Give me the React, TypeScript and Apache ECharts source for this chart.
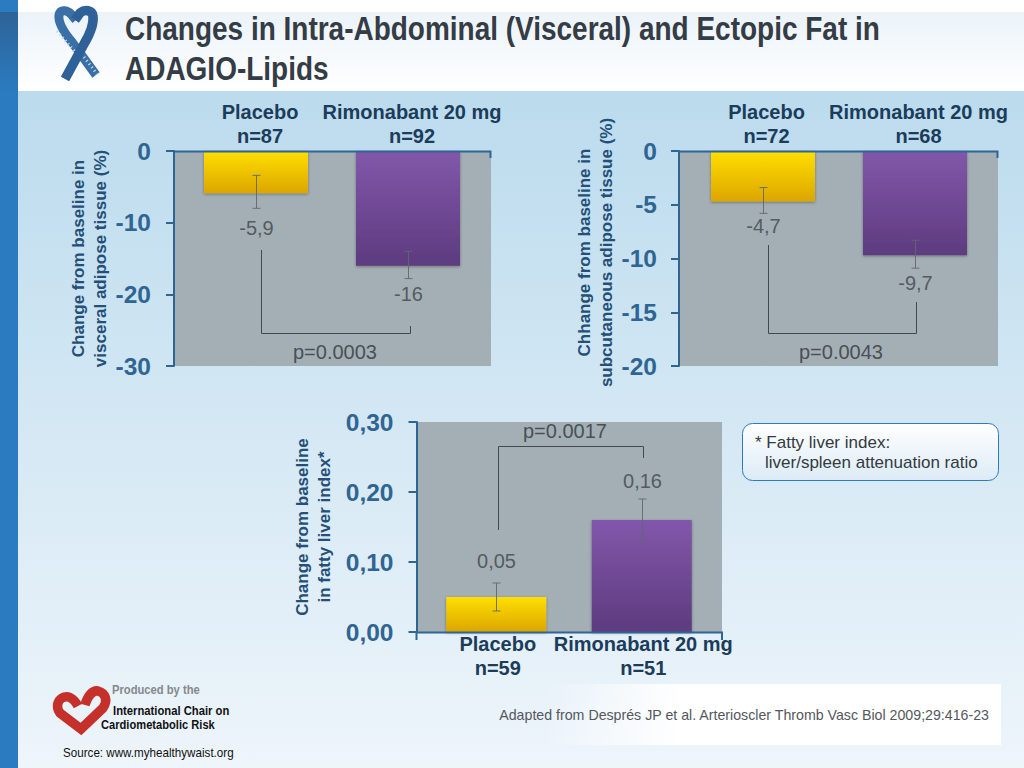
import React, { useEffect, useRef } from "react";
import * as echarts from "echarts";

const titleLines = ["Changes in Intra-Abdominal (Visceral) and Ectopic Fat in", "ADAGIO-Lipids"];

const visceralCats = ["Placebo\nn=87", "Rimonabant 20 mg\nn=92"];
const visceralValues = [-5.9, -16];
const visceralLow = [-8, -17.8];
const visceralHigh = [-3.4, -14];
const visceralLabels = ["-5,9", "-16"];
const visceralTicks = { min: -30, max: 0, interval: 10 };

const subcutCats = ["Placebo\nn=72", "Rimonabant 20 mg\nn=68"];
const subcutValues = [-4.7, -9.7];
const subcutLow = [-5.8, -10.9];
const subcutHigh = [-3.4, -8.3];
const subcutLabels = ["-4,7", "-9,7"];
const subcutTicks = { min: -20, max: 0, interval: 5 };

const liverCats = ["Placebo\nn=59", "Rimonabant 20 mg\nn=51"];
const liverValues = [0.05, 0.16];
const liverLow = [0.03, 0.13];
const liverHigh = [0.07, 0.19];
const liverLabels = ["0,05", "0,16"];
const liverTicks = { min: 0, max: 0.3, interval: 0.1 };

const RIBBON_A = "M96 75 L72 42 C62 30 58 22 59 15 C60 10 66 9 71 14 L76 20";
const RIBBON_B = "M65 79 L84 44 C90 34 94 24 93 16 C92 10 85 9 80 13 L75 20";
const HEART = "M78 706 C73 697 67 695 62 698 C57 701 56 708 60 713 L81 729 L103 708 C108 701 106 693 98 691 C93 690 88 695 85 705";

echarts.graphic.registerShape("ribbonA", echarts.graphic.extendPath(RIBBON_A, {}));
echarts.graphic.registerShape("ribbonB", echarts.graphic.extendPath(RIBBON_B, {}));
echarts.graphic.registerShape("heartMark", echarts.graphic.extendPath(HEART, {}));

const SANS = "'Liberation Sans', Arial, sans-serif";
const AXIS_BLUE = "#2f6593";
const NAME_BLUE = "#234f78";
const NAVY = "#1b3c5a";
const GREY = "#555b5f";
const PLOT = "#a3afb5";

const grad = (a: string, b: string) =>
  new echarts.graphic.LinearGradient(0, 0, 0, 1, [
    { offset: 0, color: a },
    { offset: 1, color: b },
  ]);

function barData(values: number[]) {
  return values.map((value, i) => ({
    value,
    itemStyle: {
      color: i === 0 ? grad("#ffdf00", "#dca600") : grad("#8257aa", "#5d3b7f"),
      shadowColor: "rgba(0,0,0,0.35)",
      shadowBlur: 3,
      shadowOffsetY: 1,
    },
  }));
}

function errorSeries(idx: number, low: number[], high: number[], labels: string[], gaps: number[], below: boolean) {
  return {
    type: "custom",
    xAxisIndex: idx,
    yAxisIndex: idx,
    z: 5,
    data: low.map((l, i) => [i, l, high[i]]),
    encode: { x: 0, y: [1, 2] },
    renderItem: (params: any, api: any) => {
      const i = api.value(0);
      const a = api.coord([i, api.value(1)]);
      const b = api.coord([i, api.value(2)]);
      const x = Math.round(a[0]) + 0.5;
      const lineStyle = { stroke: "#62666a", lineWidth: 0.9 };
      const end = below ? a[1] : b[1];
      return {
        type: "group",
        children: [
          { type: "line", shape: { x1: x, y1: a[1], x2: x, y2: b[1] }, style: lineStyle },
          { type: "line", shape: { x1: x - 4, y1: a[1], x2: x + 4, y2: a[1] }, style: lineStyle },
          { type: "line", shape: { x1: x - 4, y1: b[1], x2: x + 4, y2: b[1] }, style: lineStyle },
          {
            type: "text",
            style: {
              text: labels[params.dataIndex],
              x: x,
              y: end + (below ? gaps[params.dataIndex] : -gaps[params.dataIndex]),
              fill: GREY,
              font: `20px ${SANS}`,
              align: "center",
              verticalAlign: "middle",
            },
          },
        ],
      };
    },
  };
}

function txt(text: string, x: number, y: number, font: string, fill: string, align = "left") {
  return { type: "text", z: 20, style: { text, x, y, font, fill, align, verticalAlign: "middle" } };
}
function narrow(text: string, x: number, y: number, font: string, fill: string, scaleX: number) {
  return { type: "text", z: 20, x, y, scaleX, style: { text, x: 0, y: 0, font, fill, align: "left", verticalAlign: "middle" } };
}
function rect(x: number, y: number, width: number, height: number, fill: any, z = -10, r = 0, extra: any = {}) {
  return { type: "rect", z, shape: { x, y, width, height, r }, style: { fill, ...extra } };
}
function poly(points: number[][], stroke = "#44494d", lineWidth = 1, extra: any = {}) {
  return { type: "polyline", z: 6, shape: { points }, style: { stroke, lineWidth, fill: "none", ...extra } };
}

export default function App() {
  const ref = useRef<HTMLDivElement>(null);
  useEffect(() => {
    const chart = echarts.init(ref.current!, undefined, { renderer: "svg" });

    const graphics: any[] = [
      // page
      rect(0, 0, 1024, 768, "#ffffff", -20),
      rect(18, 91, 1006, 677, grad("#bbdbed", "#eef5fb")),
      rect(18, 12, 1006, 79, grad("#ebf3f9", "#ffffff")),
      rect(0, 0, 18, 768, "#2b7bc1"),
      rect(0, 12, 18, 80, grad("#2d6396", "#2b7bc1"), -9),
      // plot backdrops
      rect(174, 152, 317, 214, PLOT, -5),
      rect(680, 152, 318, 214, PLOT, -5),
      rect(417, 422, 305, 210, PLOT, -5),
      // category axis lines
      poly([[173, 151.5], [490.5, 151.5], [490.5, 158]], AXIS_BLUE, 2),
      poly([[679, 151.5], [997.5, 151.5], [997.5, 158]], AXIS_BLUE, 2),
      poly([[416.5, 640], [416.5, 632.5], [722, 632.5], [722, 640]], AXIS_BLUE, 2),
      // significance brackets
      poly([[261.5, 250], [261.5, 333.5], [410.5, 333.5], [410.5, 326]]),
      poly([[768.5, 245], [768.5, 333.5], [916.5, 333.5], [916.5, 302]]),
      poly([[498.5, 530], [498.5, 446.5], [643.5, 446.5], [643.5, 458]]),
      txt("p=0.0003", 335, 352, `20px ${SANS}`, "#4a5055", "center"),
      txt("p=0.0043", 841, 352, `20px ${SANS}`, "#4a5055", "center"),
      txt("p=0.0017", 565, 431, `20px ${SANS}`, "#4a5055", "center"),
      // title
      narrow(titleLines[0], 125, 29, `bold 34px ${SANS}`, "#343c45", 0.823),
      narrow(titleLines[1], 125, 69, `bold 34px ${SANS}`, "#343c45", 0.823),
      // ribbon logo
      { type: "ribbonA", z: 10, x: 0, y: 0, style: { fill: "none", stroke: "#3a70a6", lineWidth: 9 } },
      { type: "ribbonB", z: 11, x: 0, y: 0, style: { fill: "none", stroke: "#2e6197", lineWidth: 9.5 } },
      { ...poly([[57, 31], [76, 53]], "#c4d6e6", 3, { lineDash: [1.2, 3] }), z: 12 },
      { ...poly([[84, 57], [97, 74]], "#c4d6e6", 3, { lineDash: [1.2, 3] }), z: 12 },
      // footnote
      rect(742.5, 423.5, 256, 57, grad("#ffffff", "#dcebf6"), -4, 10, { stroke: "#2b7bc1", lineWidth: 1 }),
      txt("* Fatty liver index:", 755, 442, `17px ${SANS}`, "#333a40"),
      txt("liver/spleen attenuation ratio", 765, 462, `17px ${SANS}`, "#333a40"),
      // footer
      {
        type: "rect",
        z: -4,
        shape: { x: 545, y: 684, width: 456, height: 61 },
        style: {
          fill: new echarts.graphic.LinearGradient(0, 0, 1, 0, [
            { offset: 0, color: "rgba(255,255,255,0)" },
            { offset: 0.3, color: "#ffffff" },
            { offset: 1, color: "#ffffff" },
          ]),
        },
      },
      txt("Adapted from Després JP et al. Arterioscler Thromb Vasc Biol 2009;29:416-23", 989, 715, `14.2px ${SANS}`, "#54585c", "right"),
      { type: "heartMark", z: 10, x: 0, y: 0, style: { fill: "none", stroke: "#c5302b", lineWidth: 9.5 } },
      narrow("Produced by the", 112, 690, `bold 13px ${SANS}`, "#85898c", 0.863),
      narrow("International Chair on", 113, 711, `bold 13px ${SANS}`, "#111111", 0.867),
      narrow("Cardiometabolic Risk", 101, 725, `bold 13px ${SANS}`, "#111111", 0.857),
      narrow("Source: www.myhealthywaist.org", 63, 753, `12px ${SANS}`, "#111111", 0.97),
    ];

    const yAxis = (idx: number, ticks: any, name: string, nameGap: number, fmt: (v: number) => string, offset: number, margin: number, namePadding: number[] = [0, 0, 0, 0]) => ({
      type: "value",
      gridIndex: idx,
      min: ticks.min,
      max: ticks.max,
      interval: ticks.interval,
      offset,
      name,
      nameLocation: "middle",
      nameRotate: 90,
      nameGap,
      nameTextStyle: { fontFamily: SANS, fontWeight: "bold", fontSize: 17, lineHeight: 22, color: NAME_BLUE, padding: namePadding },
      splitLine: { show: false },
      axisLine: { show: true, onZero: false, lineStyle: { color: AXIS_BLUE, width: 2 } },
      axisTick: { show: true, length: 8, lineStyle: { color: AXIS_BLUE, width: 2 } },
      axisLabel: { fontFamily: SANS, fontWeight: "bold", fontSize: 24.5, color: AXIS_BLUE, margin, formatter: fmt },
    });
    const xAxis = (idx: number, cats: string[], position: string, margin: number, padding: number[]) => ({
      type: "category",
      gridIndex: idx,
      data: cats,
      position,
      axisLine: { show: false },
      axisTick: { show: false },
      axisLabel: { interval: 0, fontFamily: SANS, fontWeight: "bold", fontSize: 20, lineHeight: 24, color: NAVY, margin, padding, hideOverlap: false },
    });
    const bars = (idx: number, values: number[], barWidth: number) => ({
      type: "bar",
      xAxisIndex: idx,
      yAxisIndex: idx,
      barWidth,
      data: barData(values),
      z: 3,
    });

    const intFmt = (v: number) => String(v);
    const decFmt = (v: number) => v.toFixed(2).replace(".", ",");

    chart.setOption({
      animation: false,
      graphic: { elements: graphics },
      grid: [
        { left: 180, top: 151, width: 304, height: 215 },
        { left: 687, top: 151, width: 304, height: 215 },
        { left: 423.5, top: 422, width: 291, height: 210 },
      ],
      xAxis: [
        xAxis(0, visceralCats, "top", 3, [0, 0, 0, 8]),
        xAxis(1, subcutCats, "top", 3, [0, 0, 0, 7]),
        xAxis(2, liverCats, "bottom", 0, [0, 0, 0, 3]),
      ],
      yAxis: [
        yAxis(0, visceralTicks, "Change from baseline in\nvisceral adipose tissue (%)", 62, intFmt, 6, 23),
        yAxis(1, subcutTicks, "Chhange from baseline in\nsubcutaneous adipose tissue (%)", 48.5, intFmt, 8, 22, [0, 0, 0, 12]),
        yAxis(2, liverTicks, "Change from baseline\nin fatty liver index*", 81, decFmt, 7, 23),
      ],
      series: [
        bars(0, visceralValues, 104),
        errorSeries(0, visceralLow, visceralHigh, visceralLabels, [20, 15], true),
        bars(1, subcutValues, 104),
        errorSeries(1, subcutLow, subcutHigh, subcutLabels, [13, 15], true),
        bars(2, liverValues, 100),
        errorSeries(2, liverLow, liverHigh, liverLabels, [22, 18], false),
      ],
    });
    return () => chart.dispose();
  }, []);
  return <div ref={ref} style={{ position: "absolute", left: 0, top: 0, width: 1024, height: 768 }} />;
}
